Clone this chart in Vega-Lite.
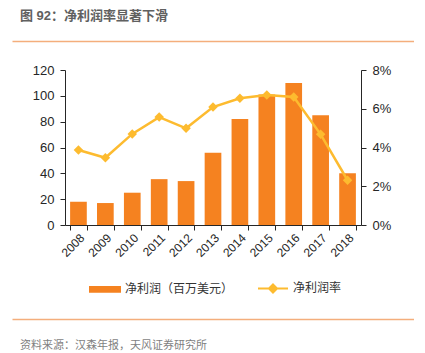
{
  "$schema": "https://vega.github.io/schema/vega-lite/v6.json",
  "autosize": {"type": "pad"},
  "padding": {"left": 12, "top": 10, "right": 0, "bottom": 0},
  "background": "white",
  "config": {
    "view": {"stroke": null},
    "font": "Liberation Sans, Noto Sans CJK SC"
  },
  "bounds": "flush",
  "center": true,
  "spacing": 29,
  "resolve": {"legend": {"color": "independent"}, "scale": {"color": "independent"}},
  "vconcat": [
    {
      "width": 402,
      "height": 0,
      "data": {"values": []},
      "title": {
        "text": "图 92：净利润率显著下滑",
        "anchor": "start",
        "dx": 8,
        "offset": -2,
        "fontSize": 13,
        "fontWeight": "bold",
        "color": "#606060",
        "font": "Liberation Sans, Noto Sans CJK SC"
      },
      "mark": "point",
      "encoding": {
        "x": {
          "field": "v",
          "type": "quantitative",
          "scale": {"domain": [0, 1]},
          "axis": {"orient": "bottom", "labels": false, "ticks": false, "grid": false, "title": null, "domainColor": "#F4AE7C", "domainWidth": 1.5}
        }
      }
    },
    {
      "width": 296,
      "height": 155,
      "data": {
        "values": [
          {"year": "2008", "profit": 18, "margin": 0.0387},
          {"year": "2009", "profit": 17, "margin": 0.0347},
          {"year": "2010", "profit": 25, "margin": 0.047},
          {"year": "2011", "profit": 35.5, "margin": 0.0557},
          {"year": "2012", "profit": 34, "margin": 0.0499},
          {"year": "2013", "profit": 56, "margin": 0.0609},
          {"year": "2014", "profit": 82, "margin": 0.0654},
          {"year": "2015", "profit": 101, "margin": 0.0671},
          {"year": "2016", "profit": 110, "margin": 0.0661},
          {"year": "2017", "profit": 85, "margin": 0.0468},
          {"year": "2018", "profit": 40, "margin": 0.0231}
        ]
      },
      "encoding": {
        "x": {
          "field": "year",
          "type": "ordinal",
          "scale": {"paddingInner": 0.38, "paddingOuter": 0.19},
          "axis": {
            "title": null,
            "labelAngle": -45,
            "labelFontSize": 12,
            "labelColor": "#262626",
            "tickBand": "extent",
            "tickSize": 5,
            "tickColor": "#262626",
            "domainColor": "#262626",
            "labelPadding": 2
          }
        }
      },
      "layer": [
        {
          "mark": {"type": "bar", "color": "#F58220"},
          "encoding": {
            "y": {
              "field": "profit",
              "type": "quantitative",
              "scale": {"domain": [0, 120]},
              "axis": {
                "orient": "left",
                "title": null,
                "grid": false,
                "values": [0, 20, 40, 60, 80, 100, 120],
                "labelFontSize": 13,
                "labelColor": "#262626",
                "tickColor": "#262626",
                "domainColor": "#262626",
                "tickSize": 5,
                "labelPadding": 6
              }
            },
            "color": {
              "datum": "净利润（百万美元）",
              "type": "nominal",
              "scale": {"domain": ["净利润（百万美元）", "净利润率"], "range": ["#F58220", "#FDBB2F"]},
              "legend": {
                "orient": "none",
                "legendX": 24,
                "legendY": 202,
                "direction": "horizontal",
                "title": null,
                "symbolSize": 900,
                "labelFontSize": 12,
                "labelColor": "#333333",
                "columnPadding": 20,
                "labelOffset": 4,
                "encode": {
                  "symbols": {
                    "update": {
                      "shape": {"signal": "datum.value === '净利润率' ? 'M-1,0H1M0,-0.27L0.27,0L0,0.27L-0.27,0Z' : 'M-1,-0.16H1V0.16H-1Z'"},
                      "fill": {"signal": "datum.value === '净利润率' ? '#FDBB2F' : '#F58220'"},
                      "stroke": {"signal": "datum.value === '净利润率' ? '#FDBB2F' : '#F58220'"},
                      "strokeWidth": {"value": 2},
                      "opacity": {"value": 1},
                      "fillOpacity": {"value": 1}
                    }
                  }
                }
              }
            }
          }
        },
        {
          "mark": {"type": "line", "strokeWidth": 2.5, "point": {"shape": "diamond", "size": 90, "filled": true}},
          "encoding": {
            "y": {
              "field": "margin",
              "type": "quantitative",
              "scale": {"domain": [0, 0.08]},
              "axis": {
                "orient": "right",
                "title": null,
                "grid": false,
                "format": ".0%",
                "values": [0, 0.02, 0.04, 0.06, 0.08],
                "labelFontSize": 13,
                "labelColor": "#262626",
                "tickColor": "#262626",
                "domainColor": "#262626",
                "tickSize": 5,
                "labelPadding": 6
              }
            },
            "color": {"datum": "净利润率", "type": "nominal"}
          }
        }
      ],
      "resolve": {"scale": {"y": "independent"}}
    },
    {
      "width": 402,
      "height": 65,
      "data": {"values": []},
      "title": {
        "text": "资料来源：汉森年报，天风证券研究所",
        "orient": "bottom",
        "anchor": "start",
        "dx": 8,
        "offset": 21,
        "fontSize": 11,
        "fontWeight": "normal",
        "color": "#7F7F7F",
        "font": "Liberation Sans, Noto Sans CJK SC"
      },
      "mark": "point",
      "encoding": {
        "x": {
          "field": "v",
          "type": "quantitative",
          "scale": {"domain": [0, 1]},
          "axis": {"orient": "bottom", "labels": false, "ticks": false, "grid": false, "title": null, "domainColor": "#F4AE7C", "domainWidth": 1.5}
        }
      }
    }
  ]
}
